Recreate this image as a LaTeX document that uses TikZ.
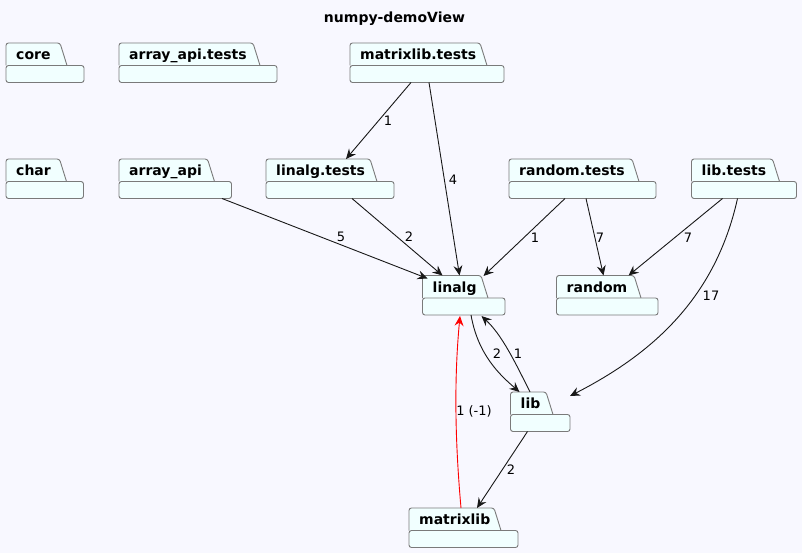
\documentclass[tikz,border=0pt]{standalone}
\usepackage{fontspec}
\setmainfont{DejaVu Sans}
\usetikzlibrary{arrows.meta,calc}
\definecolor{bgc}{HTML}{F8F8FF}
\definecolor{pkgfillc}{HTML}{F1FFFF}
\definecolor{pkgdrawc}{HTML}{7A7A7A}
\definecolor{edgec}{HTML}{181818}
\definecolor{redc}{HTML}{FF0000}
\tikzset{
  pkgline/.style={draw=pkgdrawc, fill=pkgfillc, line width=0.9pt, rounded corners=2.5pt},
  pkgname/.style={inner sep=0pt, font=\fontsize{14}{16}\selectfont\bfseries, text=black},
  pkgarea/.style={inner sep=0pt, outer sep=0pt, draw=none},
  dep/.style={draw=edgec, line width=0.9pt, -{Stealth[length=10pt,width=9pt,inset=3.5pt]}},
  reddep/.style={dep, draw=redc},
  lbl/.style={inner sep=0pt, font=\fontsize{13}{15}\selectfont, text=black},
}
% id, x, y, right edge, label
\newcommand\pkgbox[5]{%
  \filldraw[pkgline] (#2,#3+22.5) -- (#2,#3) -- (#4-24,#3) -- (#4-17,#3+22.5);
  \filldraw[pkgline] (#2,#3+22.5) rectangle (#4,#3+39.5);
  \node[pkgname, anchor=base west] (#1-name) at (#2+10,#3+16.5) {#5};
  \node[pkgarea, anchor=north west, minimum width={#4-#2}, minimum height=39.5] (#1) at (#2,#3) {};
}
\begin{document}
\begin{tikzpicture}[x=1pt,y=-1pt]
\fill[bgc] (0,0) rectangle (802,553);
\useasboundingbox (0,0) rectangle (802,553);
\node[pkgname, anchor=base] (title) at (394.5,23) {numpy-demoView};

\pkgbox{core}{6}{43}{84}{core}
\pkgbox{aatests}{119}{43}{277}{array\_api.tests}
\pkgbox{mltests}{350}{43}{504}{matrixlib.tests}
\pkgbox{char}{6}{159}{83.5}{char}
\pkgbox{aa}{119}{159}{231.5}{array\_api}
\pkgbox{lt}{266}{159}{394}{linalg.tests}
\pkgbox{rt}{509}{159}{656}{random.tests}
\pkgbox{libt}{691.5}{159}{796.5}{lib.tests}
\pkgbox{linalg}{422.5}{275.5}{505}{linalg}
\pkgbox{random}{556.5}{275.5}{658}{random}
\pkgbox{lib}{510.5}{392}{570}{lib}
\pkgbox{ml}{409}{508}{518}{matrixlib}

% edges
\draw[dep] ($(mltests.south west)+(61,0)$) -- ($(lt.north west)+(80,0)$);
\node[lbl] (l1) at (388,121) {1};
\draw[dep] ($(mltests.south west)+(79,0)$) -- ($(linalg.north west)+(37,0)$);
\node[lbl] (l2) at (453,180) {4};
\draw[dep] ($(aa.south west)+(103,0)$) -- ($(linalg.north west)+(5,3)$);
\node[lbl] (l3) at (341,237) {5};
\draw[dep] ($(lt.south west)+(86,0)$) -- ($(linalg.north west)+(20,0)$);
\node[lbl] (l4) at (409,237) {2};
\draw[dep] ($(rt.south west)+(56,0)$) -- ($(linalg.north west)+(61,0.5)$);
\node[lbl] (l5) at (535,238) {1};
\draw[dep] ($(rt.south west)+(77,0)$) -- ($(random.north west)+(47,0)$);
\node[lbl] (l6) at (600,238) {7};
\draw[dep] ($(libt.south west)+(31,0)$) -- ($(random.north west)+(72,0)$);
\node[lbl] (l7) at (688,238) {7};
\draw[dep] ($(libt.south west)+(46,0)$) .. controls (715,300) and (650,355) .. ($(lib.north east)+(0,4)$);
\node[lbl] (l8) at (711,296) {17};
\draw[dep] ($(linalg.south west)+(48.5,0)$) .. controls (478,355) and (500,375) .. ($(lib.north west)+(9,0)$);
\node[lbl] (l9) at (497,354) {2};
\draw[dep] ($(lib.north west)+(19.5,0)$) .. controls (515,362) and (502,335) .. ($(linalg.south west)+(59,1)$);
\node[lbl] (l10) at (518,354) {1};
\draw[dep] ($(lib.south west)+(17,0)$) -- ($(ml.north west)+(68,0)$);
\node[lbl] (l11) at (511,470) {2};
\draw[reddep] ($(ml.north west)+(52,0)$) .. controls (455,440) and (454,380) .. ($(linalg.south west)+(37.5,1)$);
\node[lbl] (l12) at (474,411) {1 (-1)};
\end{tikzpicture}
\end{document}
